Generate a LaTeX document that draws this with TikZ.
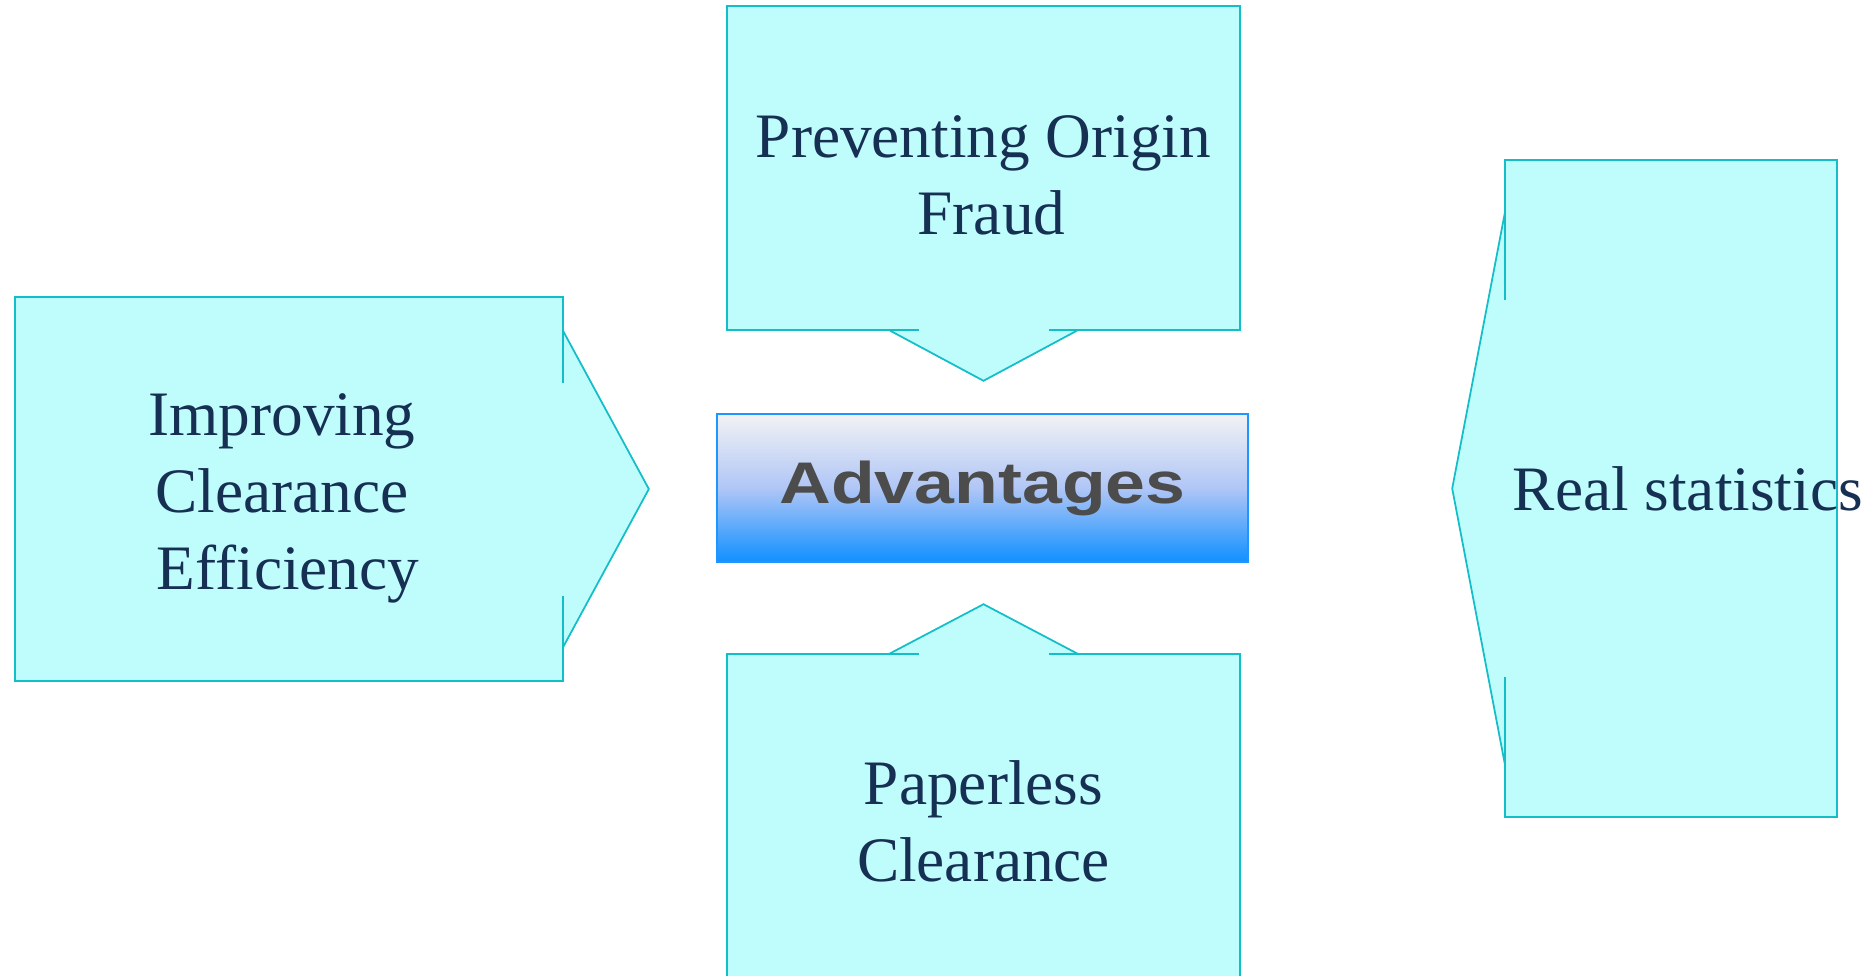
\documentclass[tikz,border=0pt]{standalone}
\usepackage{fontspec}
\setmainfont{Liberation Serif}
\newfontfamily\advfont{Liberation Sans}
\usepackage{tikz}
\usetikzlibrary{calc,positioning}
\definecolor{panelfill}{RGB}{191,252,252}
\definecolor{panelrim}{RGB}{20,190,200}
\definecolor{labelnavy}{RGB}{22,48,84}
\definecolor{advtop}{RGB}{242,242,244}
\definecolor{advmid}{RGB}{176,198,246}
\definecolor{advbot}{RGB}{16,144,255}
\definecolor{advrim}{RGB}{30,150,255}
\definecolor{advtext}{RGB}{76,76,76}
\tikzstyle{panel}   = [rectangle, fill=panelfill, inner sep=0pt]
\tikzstyle{caption} = [text=labelnavy, align=center, inner sep=0pt, font=\fontsize{18}{21.9}\selectfont]
\tikzstyle{rim}     = [draw=panelrim, line width=0.5pt]
\tikzstyle{advbox}  = [rectangle, draw=advrim, line width=0.6pt, top color=advtop, bottom color=advbot, middle color=advmid, text=advtext, font=\advfont\bfseries\fontsize{16.7}{20}\selectfont]

\begin{document}
\begin{tikzpicture}[x=0.01cm, y=-0.01cm]
            \useasboundingbox (0,0) rectangle (1875,975);
            %Create the four panels and the centre box
            \node (fraud)      [panel, minimum width=5.11cm, minimum height=3.22cm] at (983.5,168)   {};
            \node (efficiency) [panel, minimum width=5.46cm, minimum height=3.82cm] at (289,489)     {};
            \node (paperless)  [panel, minimum width=5.11cm, minimum height=3.33cm] at (983.5,821.5) {};
            \node (stats)      [panel, minimum width=3.30cm, minimum height=6.55cm] at (1671,488.5)  {};
            \node (adv)        [advbox, minimum width=5.31cm, minimum height=1.48cm] at (982.5,488)  {\scalebox{1.22}[1]{Advantages}};
            %Pointer tips
            \coordinate (fraud_tip)      at ($(fraud.south)+(0,51)$);
            \coordinate (efficiency_tip) at ($(efficiency.east)+(86,0)$);
            \coordinate (paperless_tip)  at ($(paperless.north)+(0,-50)$);
            \coordinate (stats_tip)      at ($(stats.west)+(-53,0)$);
            \fill [panelfill] ($(fraud.south)+(-95,-4)$) -- ($(fraud.south)+(-95,0)$) -- (fraud_tip) -- ($(fraud.south)+(95,0)$) -- ++(0,-4) -- cycle;
            \fill [panelfill] ($(efficiency.east)+(-4,-158.5)$) -- ($(efficiency.east)+(0,-158.5)$) -- (efficiency_tip) -- ($(efficiency.east)+(0,158.5)$) -- ++(-4,0) -- cycle;
            \fill [panelfill] ($(paperless.north)+(-95,4)$) -- ($(paperless.north)+(-95,0)$) -- (paperless_tip) -- ($(paperless.north)+(95,0)$) -- ++(0,4) -- cycle;
            \fill [panelfill] ($(stats.west)+(4,-277.5)$) -- ($(stats.west)+(0,-277.5)$) -- (stats_tip) -- ($(stats.west)+(0,277.5)$) -- ++(4,0) -- cycle;
            %Outlines, open where the pointer leaves
            \draw [rim] ($(fraud.south)+(-65,0)$) -- (fraud.south west) -- (fraud.north west) -- (fraud.north east) -- (fraud.south east) -- ($(fraud.south)+(65,0)$);
            \draw [rim] ($(fraud.south)+(-95,0)$) -- (fraud_tip) -- ($(fraud.south)+(95,0)$);
            \draw [rim] ($(efficiency.east)+(0,-106.5)$) -- (efficiency.north east) -- (efficiency.north west) -- (efficiency.south west) -- (efficiency.south east) -- ($(efficiency.east)+(0,106.5)$);
            \draw [rim] ($(efficiency.east)+(0,-158.5)$) -- (efficiency_tip) -- ($(efficiency.east)+(0,158.5)$);
            \draw [rim] ($(paperless.north)+(-65,0)$) -- (paperless.north west) -- (paperless.south west) -- (paperless.south east) -- (paperless.north east) -- ($(paperless.north)+(65,0)$);
            \draw [rim] ($(paperless.north)+(-95,0)$) -- (paperless_tip) -- ($(paperless.north)+(95,0)$);
            \draw [rim] ($(stats.west)+(0,-188.5)$) -- (stats.north west) -- (stats.north east) -- (stats.south east) -- (stats.south west) -- ($(stats.west)+(0,188.5)$);
            \draw [rim] ($(stats.west)+(0,-277.5)$) -- (stats_tip) -- ($(stats.west)+(0,277.5)$);
            %Texts
            \node (fraud_txt)      [caption, yshift=-0.075cm] at (fraud)      {Preventing Origin\\\hspace*{0.16cm}Fraud};
            \node (efficiency_txt) [caption, xshift=-0.07cm, yshift=-0.09cm] at (efficiency) {Improving\\Clearance\\\hspace*{0.12cm}Efficiency};
            \node (paperless_txt)  [caption] at (paperless)  {Paperless\\Clearance};
            \node (stats_txt)      [caption, anchor=west, xshift=0.07cm] at (stats.west) {Real statistics};
        \end{tikzpicture}
\end{document}
